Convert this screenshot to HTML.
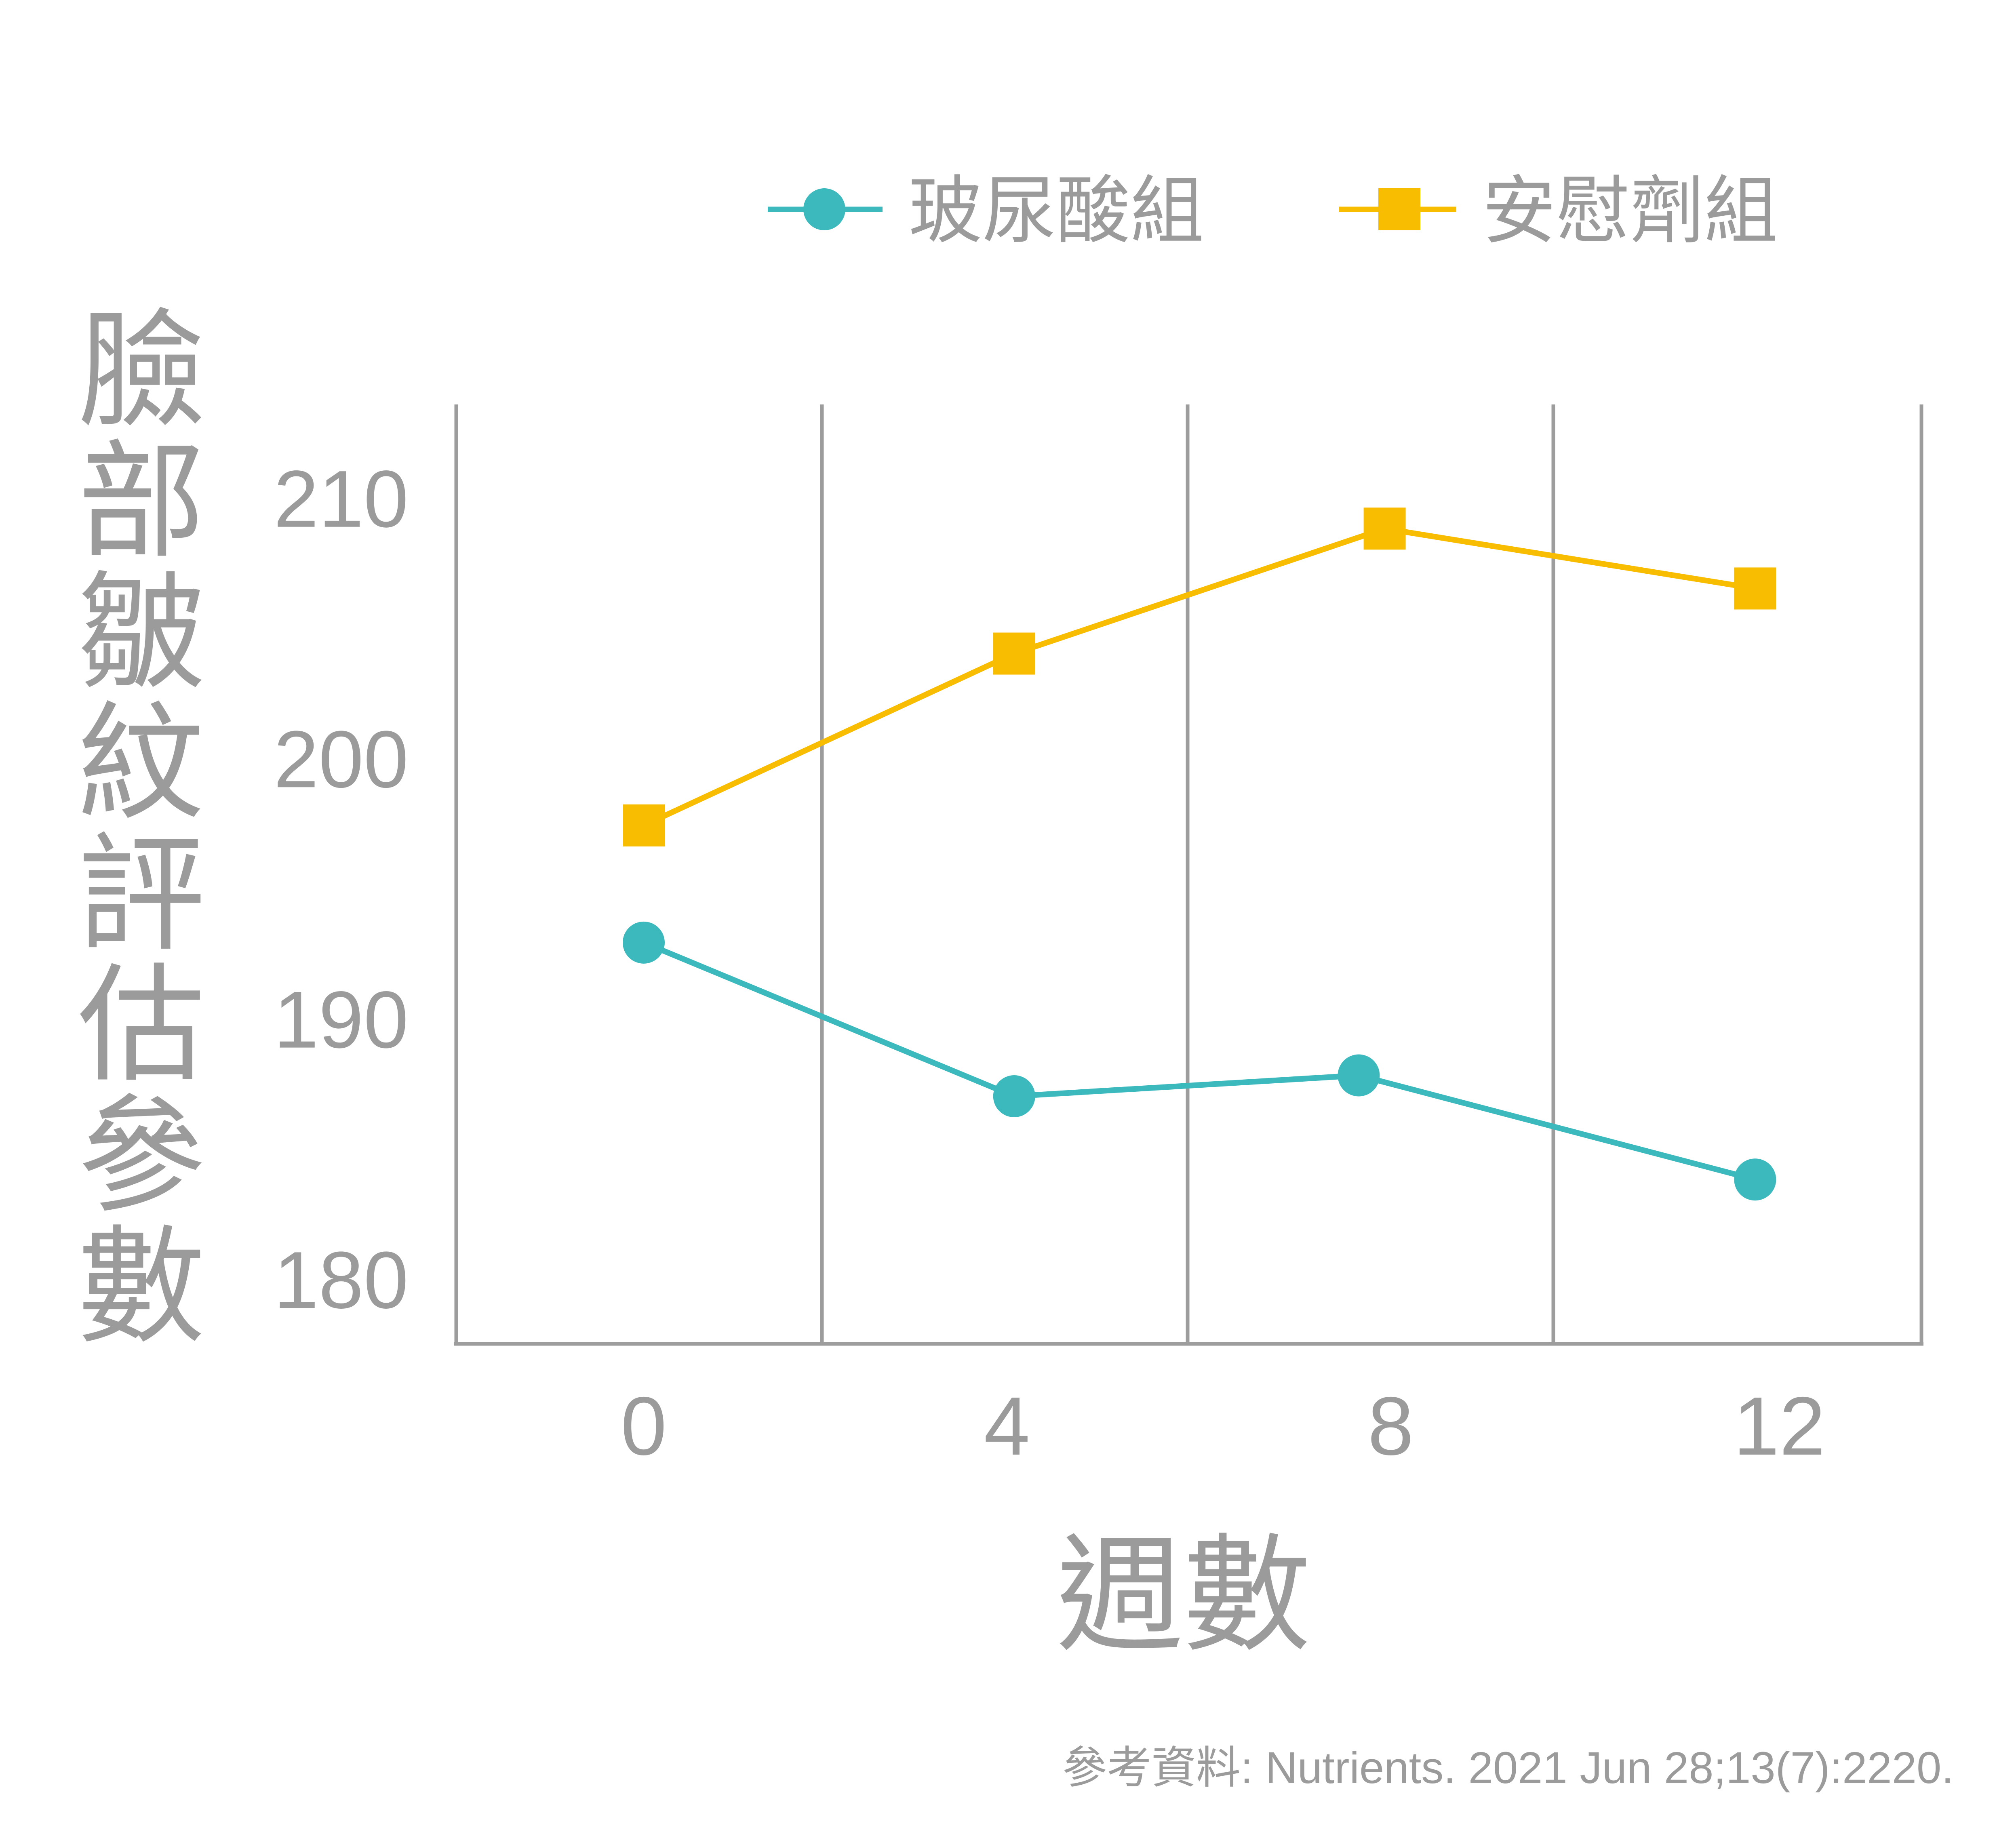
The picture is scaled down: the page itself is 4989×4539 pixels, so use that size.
<!DOCTYPE html>
<html><head><meta charset="utf-8">
<style>
html,body{margin:0;padding:0;background:#fff;}
svg{display:block;}
text{font-family:"Liberation Sans","Noto Sans CJK TC",sans-serif;fill:#9b9b9b;}
</style></head>
<body>
<svg id="chart" width="4989" height="4539" viewBox="0 0 4989 4539" xmlns="http://www.w3.org/2000/svg">
<g id="grid"></g>
<g id="yticks"></g>
<g id="xticks"></g>
<g id="series"></g>
<g id="ytitle"></g>
<text x="2929" y="4058" font-size="315" text-anchor="middle">週數</text>
<g>
  <g>
    <line x1="1900" y1="518" x2="2184" y2="518" stroke="#3bb9bd" stroke-width="13"/>
    <circle cx="2040" cy="518" r="52" fill="#3bb9bd"/>
    <text x="2248" y="585" font-size="183">玻尿酸組</text>
  </g>
  <g>
    <line x1="3313" y1="518" x2="3604" y2="518" stroke="#f8bc00" stroke-width="13"/>
    <rect x="3411" y="466" width="104" height="104" fill="#f8bc00"/>
    <text x="3668" y="585" font-size="183">安慰劑組</text>
  </g>
</g>
<text x="2629" y="4413" font-size="110" textLength="2206" lengthAdjust="spacingAndGlyphs" fill="#aaaaaa">參考資料: Nutrients. 2021 Jun 28;13(7):2220.</text>
</svg>
<script>
const weeks = [0, 4, 8, 12];
const tealWeeks = [0, 4, 7.72, 12];
const hyaluronicValues = [193.1, 187.2, 188.0, 184.0];
const placeboValues = [197.6, 204.2, 209.0, 206.7];
const yTickValues = [180, 190, 200, 210];
const xTickLabels = ["0", "4", "8", "12"];
const yTitleChars = ["臉","部","皺","紋","評","估","參","數"];

const NS = "http://www.w3.org/2000/svg";
function xs(v){ return 1593 + v * 229.2; }
function ys(v){ return 3177 - (v - 180) * 64.44; }
function mk(tag, attrs, parent){
  const e = document.createElementNS(NS, tag);
  for (const k in attrs) e.setAttribute(k, attrs[k]);
  parent.appendChild(e);
  return e;
}
const grid = document.getElementById('grid');
const gx = [1129, 2034, 2939, 3844, 4755];
gx.forEach(x => {
  const l = mk('line', {x1:x, y1:1001, x2:x, y2:3326, stroke:'#9d9d9d', 'stroke-width':9}, grid);
  
  
});
const base = mk('line', {x1:1124, y1:3326, x2:4760, y2:3326, stroke:'#9d9d9d', 'stroke-width':9}, grid);



const yt = document.getElementById('yticks');
yTickValues.forEach(v => {
  const t = mk('text', {x:1011, y:ys(v)+60, 'font-size':200, 'text-anchor':'end'}, yt);
  
  
  t.textContent = String(v);
});
const xt = document.getElementById('xticks');
weeks.forEach((w, i) => {
  const t = mk('text', {x:xs(w) + (i===3?60:(i===1?-18:(i===2?15:0))), y:3600, 'font-size':205, 'text-anchor':'middle'}, xt);
  
  
  t.textContent = xTickLabels[i];
});

const sg = document.getElementById('series');
function drawSeries(xv, yv, color, shape, name){
  const pts = xv.map((w, i) => xs(w) + ',' + ys(yv[i])).join(' ');
  const pl = mk('polyline', {points:pts, fill:'none', stroke:color, 'stroke-width':14, 'stroke-linejoin':'round'}, sg);
  
  
  xv.forEach((w, i) => {
    let m;
    if (shape === 'circle') m = mk('circle', {cx:xs(w), cy:ys(yv[i]), r:52, fill:color}, sg);
    else m = mk('rect', {x:xs(w)-52, y:ys(yv[i])-52, width:104, height:104, fill:color}, sg);
    
    
  });
}
drawSeries(weeks, placeboValues, '#f8bc00', 'square', 'placebo');
drawSeries(tealWeeks, hyaluronicValues, '#3bb9bd', 'circle', 'hyaluronic');

const ytt = document.getElementById('ytitle');
yTitleChars.forEach((c, i) => {
  const t = mk('text', {x:350, y:915 + i*324 + 112, 'font-size':315, 'text-anchor':'middle'}, ytt);
  
  
  t.textContent = c;
});
</script>
</body></html>
